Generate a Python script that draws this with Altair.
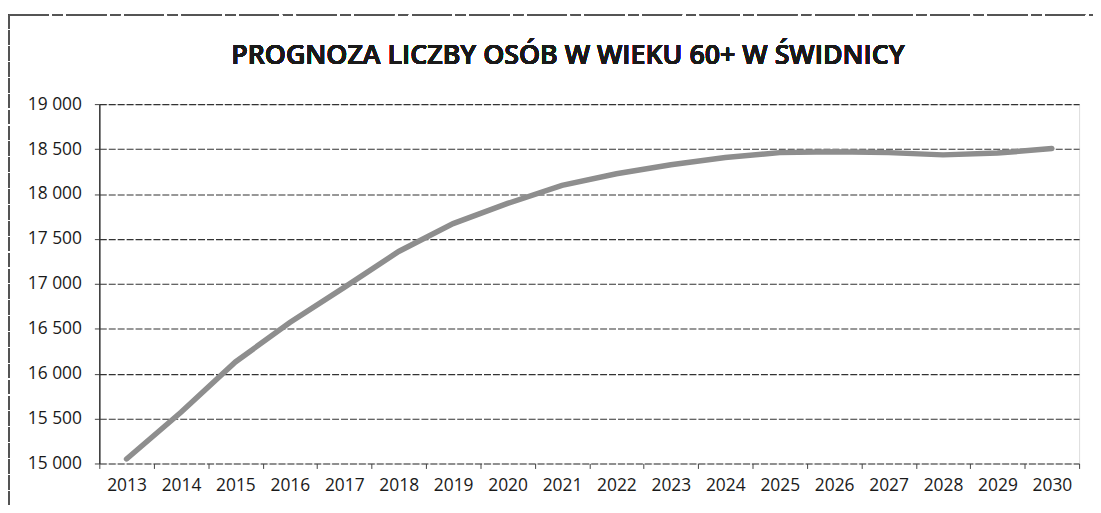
import altair as alt
import pandas as pd

years = [2013, 2014, 2015, 2016, 2017, 2018, 2019, 2020, 2021,
         2022, 2023, 2024, 2025, 2026, 2027, 2028, 2029, 2030]
persons = [15050, 15570, 16130, 16570, 16960, 17360, 17670, 17895, 18095,
           18225, 18325, 18405, 18460, 18470, 18460, 18435, 18455, 18505]
y_ticks = [15000, 15500, 16000, 16500, 17000, 17500, 18000, 18500, 19000]
title_text = "PROGNOZA LICZBY OSÓB W WIEKU 60+ W ŚWIDNICY"

df = pd.DataFrame({"rok": years, "osoby": persons})

W, H = 987, 362

base = alt.Chart(df)

line = base.mark_line(color="#8e8e8e", strokeWidth=5.5, strokeCap="round").encode(
    x=alt.X("rok:O",
            scale=alt.Scale(type="band", paddingInner=0, paddingOuter=0),
            axis=alt.Axis(title=None, labelAngle=0, domain=False, grid=False,
                          ticks=True, tickBand="extent", tickSize=5,
                          tickColor="#444", labelPadding=8,
                          labelFont="Open Sans", labelFontSize=17.5,
                          labelColor="#1a1a1a")),
    y=alt.Y("osoby:Q",
            scale=alt.Scale(domain=[15000, 19000], nice=False, zero=False),
            axis=alt.Axis(title=None, values=y_ticks, grid=True,
                          gridColor="#333333", gridDash=[7, 2],
                          gridWidth=1.1, domain=True, domainColor="#333",
                          domainWidth=1.5, tickSize=5, tickColor="#444",
                          labelPadding=13, labelFont="Open Sans",
                          labelFontSize=17.5, labelColor="#1a1a1a",
                          labelExpr="replace(format(datum.value, ',d'), ',', ' ')")),
)

title = base.mark_text(font="Open Sans", fontSize=27, fontWeight=600,
                       color="#1a1a1a", align="center",
                       baseline="alphabetic").encode(
    x=alt.value(472), y=alt.value(-40), text=alt.value(title_text)
)

left_border = base.mark_rule(color="#555", strokeWidth=1.5, strokeDash=[14, 2]).encode(
    x=alt.value(-91), y=alt.value(-90), y2=alt.value(H + 60)
)
top_border = base.mark_rule(color="#555", strokeWidth=1.5, strokeDash=[40, 4, 10, 4]).encode(
    x=alt.value(-91), x2=alt.value(W + 14), y=alt.value(-90)
)

chart = alt.layer(line, title, left_border, top_border).properties(
    width=W,
    height=H,
    autosize=alt.AutoSizeParams(type="none"),
    padding={"left": 92, "top": 95, "right": 14, "bottom": 40},
).configure_view(stroke=None).configure(background="white")

chart.save("out.html", embed_options={"renderer": "svg", "actions": False})
